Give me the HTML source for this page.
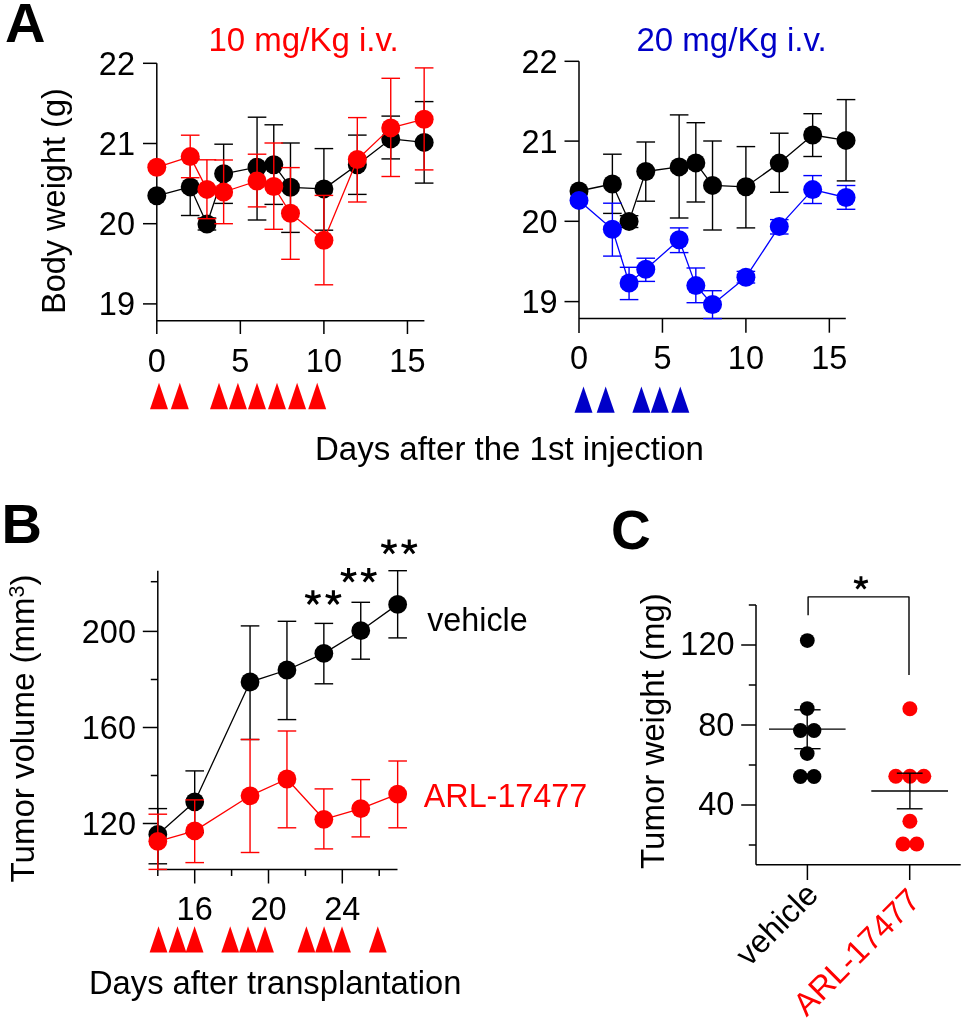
<!DOCTYPE html>
<html><head><meta charset="utf-8"><style>
html,body{margin:0;padding:0;background:#fff;overflow:hidden;}
svg{display:block;will-change:transform;}
text{font-family:"Liberation Sans", sans-serif;}
</style></head><body>
<svg width="967" height="1022" viewBox="0 0 967 1022">
<rect width="967" height="1022" fill="#fff"/>
<line x1="156.80" y1="63.30" x2="156.80" y2="334.00" stroke="#000000" stroke-width="1.5"/>
<line x1="156.80" y1="320.70" x2="424.40" y2="320.70" stroke="#000000" stroke-width="1.5"/>
<line x1="143.00" y1="63.30" x2="156.80" y2="63.30" stroke="#000000" stroke-width="1.5"/>
<line x1="143.00" y1="143.50" x2="156.80" y2="143.50" stroke="#000000" stroke-width="1.5"/>
<line x1="143.00" y1="223.70" x2="156.80" y2="223.70" stroke="#000000" stroke-width="1.5"/>
<line x1="143.00" y1="303.90" x2="156.80" y2="303.90" stroke="#000000" stroke-width="1.5"/>
<line x1="240.35" y1="320.70" x2="240.35" y2="334.00" stroke="#000000" stroke-width="1.5"/>
<line x1="323.90" y1="320.70" x2="323.90" y2="334.00" stroke="#000000" stroke-width="1.5"/>
<line x1="407.45" y1="320.70" x2="407.45" y2="334.00" stroke="#000000" stroke-width="1.5"/>
<line x1="190.22" y1="158.40" x2="190.22" y2="215.50" stroke="#000000" stroke-width="1.4"/>
<line x1="180.92" y1="158.40" x2="199.52" y2="158.40" stroke="#000000" stroke-width="1.4"/>
<line x1="180.92" y1="215.50" x2="199.52" y2="215.50" stroke="#000000" stroke-width="1.4"/>
<line x1="206.93" y1="218.00" x2="206.93" y2="230.00" stroke="#000000" stroke-width="1.4"/>
<line x1="197.63" y1="218.00" x2="216.23" y2="218.00" stroke="#000000" stroke-width="1.4"/>
<line x1="197.63" y1="230.00" x2="216.23" y2="230.00" stroke="#000000" stroke-width="1.4"/>
<line x1="223.64" y1="144.20" x2="223.64" y2="203.40" stroke="#000000" stroke-width="1.4"/>
<line x1="214.34" y1="144.20" x2="232.94" y2="144.20" stroke="#000000" stroke-width="1.4"/>
<line x1="214.34" y1="203.40" x2="232.94" y2="203.40" stroke="#000000" stroke-width="1.4"/>
<line x1="257.06" y1="117.20" x2="257.06" y2="220.00" stroke="#000000" stroke-width="1.4"/>
<line x1="247.76" y1="117.20" x2="266.36" y2="117.20" stroke="#000000" stroke-width="1.4"/>
<line x1="247.76" y1="220.00" x2="266.36" y2="220.00" stroke="#000000" stroke-width="1.4"/>
<line x1="273.77" y1="124.80" x2="273.77" y2="204.40" stroke="#000000" stroke-width="1.4"/>
<line x1="264.47" y1="124.80" x2="283.07" y2="124.80" stroke="#000000" stroke-width="1.4"/>
<line x1="264.47" y1="204.40" x2="283.07" y2="204.40" stroke="#000000" stroke-width="1.4"/>
<line x1="290.48" y1="143.00" x2="290.48" y2="232.40" stroke="#000000" stroke-width="1.4"/>
<line x1="281.18" y1="143.00" x2="299.78" y2="143.00" stroke="#000000" stroke-width="1.4"/>
<line x1="281.18" y1="232.40" x2="299.78" y2="232.40" stroke="#000000" stroke-width="1.4"/>
<line x1="323.90" y1="148.60" x2="323.90" y2="230.20" stroke="#000000" stroke-width="1.4"/>
<line x1="314.60" y1="148.60" x2="333.20" y2="148.60" stroke="#000000" stroke-width="1.4"/>
<line x1="314.60" y1="230.20" x2="333.20" y2="230.20" stroke="#000000" stroke-width="1.4"/>
<line x1="357.32" y1="135.10" x2="357.32" y2="194.40" stroke="#000000" stroke-width="1.4"/>
<line x1="348.02" y1="135.10" x2="366.62" y2="135.10" stroke="#000000" stroke-width="1.4"/>
<line x1="348.02" y1="194.40" x2="366.62" y2="194.40" stroke="#000000" stroke-width="1.4"/>
<line x1="390.74" y1="116.10" x2="390.74" y2="158.90" stroke="#000000" stroke-width="1.4"/>
<line x1="381.44" y1="116.10" x2="400.04" y2="116.10" stroke="#000000" stroke-width="1.4"/>
<line x1="381.44" y1="158.90" x2="400.04" y2="158.90" stroke="#000000" stroke-width="1.4"/>
<line x1="424.16" y1="101.60" x2="424.16" y2="183.10" stroke="#000000" stroke-width="1.4"/>
<line x1="414.86" y1="101.60" x2="433.46" y2="101.60" stroke="#000000" stroke-width="1.4"/>
<line x1="414.86" y1="183.10" x2="433.46" y2="183.10" stroke="#000000" stroke-width="1.4"/>
<polyline points="156.80,195.80 190.22,186.90 206.93,224.00 223.64,173.80 257.06,167.20 273.77,164.70 290.48,187.30 323.90,188.90 357.32,164.80 390.74,138.90 424.16,142.40" fill="none" stroke="#000000" stroke-width="1.3" stroke-linejoin="round"/>
<circle cx="156.80" cy="195.80" r="9.5" fill="#000000"/>
<circle cx="190.22" cy="186.90" r="9.5" fill="#000000"/>
<circle cx="206.93" cy="224.00" r="9.5" fill="#000000"/>
<circle cx="223.64" cy="173.80" r="9.5" fill="#000000"/>
<circle cx="257.06" cy="167.20" r="9.5" fill="#000000"/>
<circle cx="273.77" cy="164.70" r="9.5" fill="#000000"/>
<circle cx="290.48" cy="187.30" r="9.5" fill="#000000"/>
<circle cx="323.90" cy="188.90" r="9.5" fill="#000000"/>
<circle cx="357.32" cy="164.80" r="9.5" fill="#000000"/>
<circle cx="390.74" cy="138.90" r="9.5" fill="#000000"/>
<circle cx="424.16" cy="142.40" r="9.5" fill="#000000"/>
<line x1="190.22" y1="135.20" x2="190.22" y2="177.70" stroke="#ff0000" stroke-width="1.4"/>
<line x1="180.92" y1="135.20" x2="199.52" y2="135.20" stroke="#ff0000" stroke-width="1.4"/>
<line x1="180.92" y1="177.70" x2="199.52" y2="177.70" stroke="#ff0000" stroke-width="1.4"/>
<line x1="206.93" y1="159.80" x2="206.93" y2="218.70" stroke="#ff0000" stroke-width="1.4"/>
<line x1="197.63" y1="159.80" x2="216.23" y2="159.80" stroke="#ff0000" stroke-width="1.4"/>
<line x1="197.63" y1="218.70" x2="216.23" y2="218.70" stroke="#ff0000" stroke-width="1.4"/>
<line x1="223.64" y1="160.00" x2="223.64" y2="223.70" stroke="#ff0000" stroke-width="1.4"/>
<line x1="214.34" y1="160.00" x2="232.94" y2="160.00" stroke="#ff0000" stroke-width="1.4"/>
<line x1="214.34" y1="223.70" x2="232.94" y2="223.70" stroke="#ff0000" stroke-width="1.4"/>
<line x1="257.06" y1="154.20" x2="257.06" y2="206.90" stroke="#ff0000" stroke-width="1.4"/>
<line x1="247.76" y1="154.20" x2="266.36" y2="154.20" stroke="#ff0000" stroke-width="1.4"/>
<line x1="247.76" y1="206.90" x2="266.36" y2="206.90" stroke="#ff0000" stroke-width="1.4"/>
<line x1="273.77" y1="143.00" x2="273.77" y2="229.30" stroke="#ff0000" stroke-width="1.4"/>
<line x1="264.47" y1="143.00" x2="283.07" y2="143.00" stroke="#ff0000" stroke-width="1.4"/>
<line x1="264.47" y1="229.30" x2="283.07" y2="229.30" stroke="#ff0000" stroke-width="1.4"/>
<line x1="290.48" y1="167.60" x2="290.48" y2="259.30" stroke="#ff0000" stroke-width="1.4"/>
<line x1="281.18" y1="167.60" x2="299.78" y2="167.60" stroke="#ff0000" stroke-width="1.4"/>
<line x1="281.18" y1="259.30" x2="299.78" y2="259.30" stroke="#ff0000" stroke-width="1.4"/>
<line x1="323.90" y1="195.40" x2="323.90" y2="284.80" stroke="#ff0000" stroke-width="1.4"/>
<line x1="314.60" y1="195.40" x2="333.20" y2="195.40" stroke="#ff0000" stroke-width="1.4"/>
<line x1="314.60" y1="284.80" x2="333.20" y2="284.80" stroke="#ff0000" stroke-width="1.4"/>
<line x1="357.32" y1="117.60" x2="357.32" y2="202.00" stroke="#ff0000" stroke-width="1.4"/>
<line x1="348.02" y1="117.60" x2="366.62" y2="117.60" stroke="#ff0000" stroke-width="1.4"/>
<line x1="348.02" y1="202.00" x2="366.62" y2="202.00" stroke="#ff0000" stroke-width="1.4"/>
<line x1="390.74" y1="78.30" x2="390.74" y2="176.50" stroke="#ff0000" stroke-width="1.4"/>
<line x1="381.44" y1="78.30" x2="400.04" y2="78.30" stroke="#ff0000" stroke-width="1.4"/>
<line x1="381.44" y1="176.50" x2="400.04" y2="176.50" stroke="#ff0000" stroke-width="1.4"/>
<line x1="424.16" y1="67.90" x2="424.16" y2="169.90" stroke="#ff0000" stroke-width="1.4"/>
<line x1="414.86" y1="67.90" x2="433.46" y2="67.90" stroke="#ff0000" stroke-width="1.4"/>
<line x1="414.86" y1="169.90" x2="433.46" y2="169.90" stroke="#ff0000" stroke-width="1.4"/>
<polyline points="156.80,167.30 190.22,156.60 206.93,189.40 223.64,192.00 257.06,181.00 273.77,186.50 290.48,213.30 323.90,240.20 357.32,159.50 390.74,127.90 424.16,119.20" fill="none" stroke="#ff0000" stroke-width="1.3" stroke-linejoin="round"/>
<circle cx="156.80" cy="167.30" r="9.5" fill="#ff0000"/>
<circle cx="190.22" cy="156.60" r="9.5" fill="#ff0000"/>
<circle cx="206.93" cy="189.40" r="9.5" fill="#ff0000"/>
<circle cx="223.64" cy="192.00" r="9.5" fill="#ff0000"/>
<circle cx="257.06" cy="181.00" r="9.5" fill="#ff0000"/>
<circle cx="273.77" cy="186.50" r="9.5" fill="#ff0000"/>
<circle cx="290.48" cy="213.30" r="9.5" fill="#ff0000"/>
<circle cx="323.90" cy="240.20" r="9.5" fill="#ff0000"/>
<circle cx="357.32" cy="159.50" r="9.5" fill="#ff0000"/>
<circle cx="390.74" cy="127.90" r="9.5" fill="#ff0000"/>
<circle cx="424.16" cy="119.20" r="9.5" fill="#ff0000"/>
<line x1="579.00" y1="61.30" x2="579.00" y2="333.00" stroke="#000000" stroke-width="1.5"/>
<line x1="579.00" y1="318.60" x2="845.80" y2="318.60" stroke="#000000" stroke-width="1.5"/>
<line x1="564.50" y1="61.30" x2="579.00" y2="61.30" stroke="#000000" stroke-width="1.5"/>
<line x1="564.50" y1="141.10" x2="579.00" y2="141.10" stroke="#000000" stroke-width="1.5"/>
<line x1="564.50" y1="221.30" x2="579.00" y2="221.30" stroke="#000000" stroke-width="1.5"/>
<line x1="564.50" y1="301.60" x2="579.00" y2="301.60" stroke="#000000" stroke-width="1.5"/>
<line x1="662.45" y1="318.60" x2="662.45" y2="332.70" stroke="#000000" stroke-width="1.5"/>
<line x1="745.90" y1="318.60" x2="745.90" y2="332.70" stroke="#000000" stroke-width="1.5"/>
<line x1="829.35" y1="318.60" x2="829.35" y2="332.70" stroke="#000000" stroke-width="1.5"/>
<line x1="612.38" y1="154.20" x2="612.38" y2="213.40" stroke="#000000" stroke-width="1.4"/>
<line x1="603.08" y1="154.20" x2="621.68" y2="154.20" stroke="#000000" stroke-width="1.4"/>
<line x1="603.08" y1="213.40" x2="621.68" y2="213.40" stroke="#000000" stroke-width="1.4"/>
<line x1="629.07" y1="215.70" x2="629.07" y2="227.50" stroke="#000000" stroke-width="1.4"/>
<line x1="619.77" y1="215.70" x2="638.37" y2="215.70" stroke="#000000" stroke-width="1.4"/>
<line x1="619.77" y1="227.50" x2="638.37" y2="227.50" stroke="#000000" stroke-width="1.4"/>
<line x1="645.76" y1="142.00" x2="645.76" y2="201.20" stroke="#000000" stroke-width="1.4"/>
<line x1="636.46" y1="142.00" x2="655.06" y2="142.00" stroke="#000000" stroke-width="1.4"/>
<line x1="636.46" y1="201.20" x2="655.06" y2="201.20" stroke="#000000" stroke-width="1.4"/>
<line x1="679.14" y1="114.90" x2="679.14" y2="218.00" stroke="#000000" stroke-width="1.4"/>
<line x1="669.84" y1="114.90" x2="688.44" y2="114.90" stroke="#000000" stroke-width="1.4"/>
<line x1="669.84" y1="218.00" x2="688.44" y2="218.00" stroke="#000000" stroke-width="1.4"/>
<line x1="695.83" y1="122.70" x2="695.83" y2="202.00" stroke="#000000" stroke-width="1.4"/>
<line x1="686.53" y1="122.70" x2="705.13" y2="122.70" stroke="#000000" stroke-width="1.4"/>
<line x1="686.53" y1="202.00" x2="705.13" y2="202.00" stroke="#000000" stroke-width="1.4"/>
<line x1="712.52" y1="141.00" x2="712.52" y2="230.00" stroke="#000000" stroke-width="1.4"/>
<line x1="703.22" y1="141.00" x2="721.82" y2="141.00" stroke="#000000" stroke-width="1.4"/>
<line x1="703.22" y1="230.00" x2="721.82" y2="230.00" stroke="#000000" stroke-width="1.4"/>
<line x1="745.90" y1="146.60" x2="745.90" y2="227.90" stroke="#000000" stroke-width="1.4"/>
<line x1="736.60" y1="146.60" x2="755.20" y2="146.60" stroke="#000000" stroke-width="1.4"/>
<line x1="736.60" y1="227.90" x2="755.20" y2="227.90" stroke="#000000" stroke-width="1.4"/>
<line x1="779.28" y1="133.20" x2="779.28" y2="192.30" stroke="#000000" stroke-width="1.4"/>
<line x1="769.98" y1="133.20" x2="788.58" y2="133.20" stroke="#000000" stroke-width="1.4"/>
<line x1="769.98" y1="192.30" x2="788.58" y2="192.30" stroke="#000000" stroke-width="1.4"/>
<line x1="812.66" y1="113.70" x2="812.66" y2="156.50" stroke="#000000" stroke-width="1.4"/>
<line x1="803.36" y1="113.70" x2="821.96" y2="113.70" stroke="#000000" stroke-width="1.4"/>
<line x1="803.36" y1="156.50" x2="821.96" y2="156.50" stroke="#000000" stroke-width="1.4"/>
<line x1="846.04" y1="99.60" x2="846.04" y2="180.90" stroke="#000000" stroke-width="1.4"/>
<line x1="836.74" y1="99.60" x2="855.34" y2="99.60" stroke="#000000" stroke-width="1.4"/>
<line x1="836.74" y1="180.90" x2="855.34" y2="180.90" stroke="#000000" stroke-width="1.4"/>
<polyline points="579.00,191.00 612.38,184.00 629.07,221.40 645.76,171.50 679.14,166.90 695.83,162.90 712.52,185.40 745.90,186.80 779.28,163.10 812.66,135.00 846.04,140.40" fill="none" stroke="#000000" stroke-width="1.3" stroke-linejoin="round"/>
<circle cx="579.00" cy="191.00" r="9.5" fill="#000000"/>
<circle cx="612.38" cy="184.00" r="9.5" fill="#000000"/>
<circle cx="629.07" cy="221.40" r="9.5" fill="#000000"/>
<circle cx="645.76" cy="171.50" r="9.5" fill="#000000"/>
<circle cx="679.14" cy="166.90" r="9.5" fill="#000000"/>
<circle cx="695.83" cy="162.90" r="9.5" fill="#000000"/>
<circle cx="712.52" cy="185.40" r="9.5" fill="#000000"/>
<circle cx="745.90" cy="186.80" r="9.5" fill="#000000"/>
<circle cx="779.28" cy="163.10" r="9.5" fill="#000000"/>
<circle cx="812.66" cy="135.00" r="9.5" fill="#000000"/>
<circle cx="846.04" cy="140.40" r="9.5" fill="#000000"/>
<line x1="612.38" y1="203.20" x2="612.38" y2="256.10" stroke="#0000ff" stroke-width="1.4"/>
<line x1="603.08" y1="203.20" x2="621.68" y2="203.20" stroke="#0000ff" stroke-width="1.4"/>
<line x1="603.08" y1="256.10" x2="621.68" y2="256.10" stroke="#0000ff" stroke-width="1.4"/>
<line x1="629.07" y1="267.30" x2="629.07" y2="299.60" stroke="#0000ff" stroke-width="1.4"/>
<line x1="619.77" y1="267.30" x2="638.37" y2="267.30" stroke="#0000ff" stroke-width="1.4"/>
<line x1="619.77" y1="299.60" x2="638.37" y2="299.60" stroke="#0000ff" stroke-width="1.4"/>
<line x1="645.76" y1="258.20" x2="645.76" y2="281.40" stroke="#0000ff" stroke-width="1.4"/>
<line x1="636.46" y1="258.20" x2="655.06" y2="258.20" stroke="#0000ff" stroke-width="1.4"/>
<line x1="636.46" y1="281.40" x2="655.06" y2="281.40" stroke="#0000ff" stroke-width="1.4"/>
<line x1="679.14" y1="227.90" x2="679.14" y2="252.60" stroke="#0000ff" stroke-width="1.4"/>
<line x1="669.84" y1="227.90" x2="688.44" y2="227.90" stroke="#0000ff" stroke-width="1.4"/>
<line x1="669.84" y1="252.60" x2="688.44" y2="252.60" stroke="#0000ff" stroke-width="1.4"/>
<line x1="695.83" y1="268.00" x2="695.83" y2="302.70" stroke="#0000ff" stroke-width="1.4"/>
<line x1="686.53" y1="268.00" x2="705.13" y2="268.00" stroke="#0000ff" stroke-width="1.4"/>
<line x1="686.53" y1="302.70" x2="705.13" y2="302.70" stroke="#0000ff" stroke-width="1.4"/>
<line x1="712.52" y1="290.70" x2="712.52" y2="318.60" stroke="#0000ff" stroke-width="1.4"/>
<line x1="703.22" y1="290.70" x2="721.82" y2="290.70" stroke="#0000ff" stroke-width="1.4"/>
<line x1="703.22" y1="318.60" x2="721.82" y2="318.60" stroke="#0000ff" stroke-width="1.4"/>
<line x1="745.90" y1="271.40" x2="745.90" y2="283.00" stroke="#0000ff" stroke-width="1.4"/>
<line x1="736.60" y1="271.40" x2="755.20" y2="271.40" stroke="#0000ff" stroke-width="1.4"/>
<line x1="736.60" y1="283.00" x2="755.20" y2="283.00" stroke="#0000ff" stroke-width="1.4"/>
<line x1="779.28" y1="219.60" x2="779.28" y2="234.00" stroke="#0000ff" stroke-width="1.4"/>
<line x1="769.98" y1="219.60" x2="788.58" y2="219.60" stroke="#0000ff" stroke-width="1.4"/>
<line x1="769.98" y1="234.00" x2="788.58" y2="234.00" stroke="#0000ff" stroke-width="1.4"/>
<line x1="812.66" y1="175.60" x2="812.66" y2="203.50" stroke="#0000ff" stroke-width="1.4"/>
<line x1="803.36" y1="175.60" x2="821.96" y2="175.60" stroke="#0000ff" stroke-width="1.4"/>
<line x1="803.36" y1="203.50" x2="821.96" y2="203.50" stroke="#0000ff" stroke-width="1.4"/>
<line x1="846.04" y1="185.50" x2="846.04" y2="209.30" stroke="#0000ff" stroke-width="1.4"/>
<line x1="836.74" y1="185.50" x2="855.34" y2="185.50" stroke="#0000ff" stroke-width="1.4"/>
<line x1="836.74" y1="209.30" x2="855.34" y2="209.30" stroke="#0000ff" stroke-width="1.4"/>
<polyline points="579.00,200.40 612.38,229.20 629.07,283.00 645.76,269.30 679.14,239.70 695.83,285.60 712.52,304.50 745.90,277.20 779.28,226.40 812.66,189.60 846.04,197.50" fill="none" stroke="#0000ff" stroke-width="1.3" stroke-linejoin="round"/>
<circle cx="579.00" cy="200.40" r="9.5" fill="#0000ff"/>
<circle cx="612.38" cy="229.20" r="9.5" fill="#0000ff"/>
<circle cx="629.07" cy="283.00" r="9.5" fill="#0000ff"/>
<circle cx="645.76" cy="269.30" r="9.5" fill="#0000ff"/>
<circle cx="679.14" cy="239.70" r="9.5" fill="#0000ff"/>
<circle cx="695.83" cy="285.60" r="9.5" fill="#0000ff"/>
<circle cx="712.52" cy="304.50" r="9.5" fill="#0000ff"/>
<circle cx="745.90" cy="277.20" r="9.5" fill="#0000ff"/>
<circle cx="779.28" cy="226.40" r="9.5" fill="#0000ff"/>
<circle cx="812.66" cy="189.60" r="9.5" fill="#0000ff"/>
<circle cx="846.04" cy="197.50" r="9.5" fill="#0000ff"/>
<text x="5.0" y="41.7" font-size="56" fill="#000000" text-anchor="start" font-weight="bold" >A</text>
<text x="208.5" y="51" font-size="33" fill="#ff0000" text-anchor="start" font-weight="normal" >10 mg/Kg i.v.</text>
<text x="636.5" y="51" font-size="33" fill="#0000c8" text-anchor="start" font-weight="normal" >20 mg/Kg i.v.</text>
<text x="135" y="74.8" font-size="32.5" fill="#000000" text-anchor="end" font-weight="normal" >22</text>
<text x="135" y="155.0" font-size="32.5" fill="#000000" text-anchor="end" font-weight="normal" >21</text>
<text x="135" y="235.2" font-size="32.5" fill="#000000" text-anchor="end" font-weight="normal" >20</text>
<text x="135" y="315.4" font-size="32.5" fill="#000000" text-anchor="end" font-weight="normal" >19</text>
<text x="557.6" y="72.8" font-size="32.5" fill="#000000" text-anchor="end" font-weight="normal" >22</text>
<text x="557.6" y="152.6" font-size="32.5" fill="#000000" text-anchor="end" font-weight="normal" >21</text>
<text x="557.6" y="232.8" font-size="32.5" fill="#000000" text-anchor="end" font-weight="normal" >20</text>
<text x="557.6" y="313.1" font-size="32.5" fill="#000000" text-anchor="end" font-weight="normal" >19</text>
<text x="156.8" y="371.5" font-size="32.5" fill="#000000" text-anchor="middle" font-weight="normal" >0</text>
<text x="579.0" y="369.3" font-size="32.5" fill="#000000" text-anchor="middle" font-weight="normal" >0</text>
<text x="240.35" y="371.5" font-size="32.5" fill="#000000" text-anchor="middle" font-weight="normal" >5</text>
<text x="662.45" y="369.3" font-size="32.5" fill="#000000" text-anchor="middle" font-weight="normal" >5</text>
<text x="323.9" y="371.5" font-size="32.5" fill="#000000" text-anchor="middle" font-weight="normal" >10</text>
<text x="745.9" y="369.3" font-size="32.5" fill="#000000" text-anchor="middle" font-weight="normal" >10</text>
<text x="407.45" y="371.5" font-size="32.5" fill="#000000" text-anchor="middle" font-weight="normal" >15</text>
<text x="829.35" y="369.3" font-size="32.5" fill="#000000" text-anchor="middle" font-weight="normal" >15</text>
<text x="0" y="0" font-size="32.5" fill="#000000" text-anchor="start" font-weight="normal" transform="translate(64.5,314) rotate(-90)">Body weight (g)</text>
<text x="315" y="459.5" font-size="33" fill="#000000" text-anchor="start" font-weight="normal" >Days after the 1st injection</text>
<polygon points="150.00,409.20 168.00,409.20 159.00,382.70" fill="#ff0000"/>
<polygon points="170.80,409.20 188.80,409.20 179.80,382.70" fill="#ff0000"/>
<polygon points="210.00,409.20 228.00,409.20 219.00,382.70" fill="#ff0000"/>
<polygon points="228.90,409.20 246.90,409.20 237.90,382.70" fill="#ff0000"/>
<polygon points="248.00,409.20 266.00,409.20 257.00,382.70" fill="#ff0000"/>
<polygon points="268.00,409.20 286.00,409.20 277.00,382.70" fill="#ff0000"/>
<polygon points="288.10,409.20 306.10,409.20 297.10,382.70" fill="#ff0000"/>
<polygon points="308.20,409.20 326.20,409.20 317.20,382.70" fill="#ff0000"/>
<polygon points="574.50,412.70 592.50,412.70 583.50,386.40" fill="#0000c8"/>
<polygon points="596.70,412.70 614.70,412.70 605.70,386.40" fill="#0000c8"/>
<polygon points="632.40,412.70 650.40,412.70 641.40,386.40" fill="#0000c8"/>
<polygon points="650.80,412.70 668.80,412.70 659.80,386.40" fill="#0000c8"/>
<polygon points="671.30,412.70 689.30,412.70 680.30,386.40" fill="#0000c8"/>
<line x1="157.80" y1="570.80" x2="157.80" y2="876.00" stroke="#000000" stroke-width="1.5"/>
<line x1="157.80" y1="869.40" x2="397.50" y2="869.40" stroke="#000000" stroke-width="1.5"/>
<line x1="142.80" y1="631.40" x2="157.80" y2="631.40" stroke="#000000" stroke-width="1.5"/>
<line x1="142.80" y1="727.50" x2="157.80" y2="727.50" stroke="#000000" stroke-width="1.5"/>
<line x1="142.80" y1="823.50" x2="157.80" y2="823.50" stroke="#000000" stroke-width="1.5"/>
<line x1="150.80" y1="581.70" x2="157.80" y2="581.70" stroke="#000000" stroke-width="1.5"/>
<line x1="150.80" y1="679.50" x2="157.80" y2="679.50" stroke="#000000" stroke-width="1.5"/>
<line x1="150.80" y1="775.50" x2="157.80" y2="775.50" stroke="#000000" stroke-width="1.5"/>
<line x1="194.70" y1="869.40" x2="194.70" y2="883.50" stroke="#000000" stroke-width="1.5"/>
<line x1="268.50" y1="869.40" x2="268.50" y2="883.50" stroke="#000000" stroke-width="1.5"/>
<line x1="342.30" y1="869.40" x2="342.30" y2="883.50" stroke="#000000" stroke-width="1.5"/>
<line x1="231.60" y1="869.40" x2="231.60" y2="876.00" stroke="#000000" stroke-width="1.5"/>
<line x1="305.40" y1="869.40" x2="305.40" y2="876.00" stroke="#000000" stroke-width="1.5"/>
<line x1="379.20" y1="869.40" x2="379.20" y2="876.00" stroke="#000000" stroke-width="1.5"/>
<line x1="157.80" y1="808.60" x2="157.80" y2="863.80" stroke="#000000" stroke-width="1.4"/>
<line x1="148.50" y1="808.60" x2="167.10" y2="808.60" stroke="#000000" stroke-width="1.4"/>
<line x1="148.50" y1="863.80" x2="167.10" y2="863.80" stroke="#000000" stroke-width="1.4"/>
<line x1="194.70" y1="770.90" x2="194.70" y2="832.70" stroke="#000000" stroke-width="1.4"/>
<line x1="185.40" y1="770.90" x2="204.00" y2="770.90" stroke="#000000" stroke-width="1.4"/>
<line x1="185.40" y1="832.70" x2="204.00" y2="832.70" stroke="#000000" stroke-width="1.4"/>
<line x1="250.05" y1="625.90" x2="250.05" y2="739.50" stroke="#000000" stroke-width="1.4"/>
<line x1="240.75" y1="625.90" x2="259.35" y2="625.90" stroke="#000000" stroke-width="1.4"/>
<line x1="240.75" y1="739.50" x2="259.35" y2="739.50" stroke="#000000" stroke-width="1.4"/>
<line x1="286.95" y1="621.30" x2="286.95" y2="719.60" stroke="#000000" stroke-width="1.4"/>
<line x1="277.65" y1="621.30" x2="296.25" y2="621.30" stroke="#000000" stroke-width="1.4"/>
<line x1="277.65" y1="719.60" x2="296.25" y2="719.60" stroke="#000000" stroke-width="1.4"/>
<line x1="323.85" y1="623.40" x2="323.85" y2="683.80" stroke="#000000" stroke-width="1.4"/>
<line x1="314.55" y1="623.40" x2="333.15" y2="623.40" stroke="#000000" stroke-width="1.4"/>
<line x1="314.55" y1="683.80" x2="333.15" y2="683.80" stroke="#000000" stroke-width="1.4"/>
<line x1="360.75" y1="602.30" x2="360.75" y2="659.20" stroke="#000000" stroke-width="1.4"/>
<line x1="351.45" y1="602.30" x2="370.05" y2="602.30" stroke="#000000" stroke-width="1.4"/>
<line x1="351.45" y1="659.20" x2="370.05" y2="659.20" stroke="#000000" stroke-width="1.4"/>
<line x1="397.65" y1="570.70" x2="397.65" y2="637.90" stroke="#000000" stroke-width="1.4"/>
<line x1="388.35" y1="570.70" x2="406.95" y2="570.70" stroke="#000000" stroke-width="1.4"/>
<line x1="388.35" y1="637.90" x2="406.95" y2="637.90" stroke="#000000" stroke-width="1.4"/>
<polyline points="157.80,834.40 194.70,801.80 250.05,682.00 286.95,670.00 323.85,653.40 360.75,630.70 397.65,604.40" fill="none" stroke="#000000" stroke-width="1.3" stroke-linejoin="round"/>
<circle cx="157.80" cy="834.40" r="9.4" fill="#000000"/>
<circle cx="194.70" cy="801.80" r="9.4" fill="#000000"/>
<circle cx="250.05" cy="682.00" r="9.4" fill="#000000"/>
<circle cx="286.95" cy="670.00" r="9.4" fill="#000000"/>
<circle cx="323.85" cy="653.40" r="9.4" fill="#000000"/>
<circle cx="360.75" cy="630.70" r="9.4" fill="#000000"/>
<circle cx="397.65" cy="604.40" r="9.4" fill="#000000"/>
<line x1="157.80" y1="814.20" x2="157.80" y2="869.40" stroke="#ff0000" stroke-width="1.4"/>
<line x1="148.50" y1="814.20" x2="167.10" y2="814.20" stroke="#ff0000" stroke-width="1.4"/>
<line x1="148.50" y1="869.40" x2="167.10" y2="869.40" stroke="#ff0000" stroke-width="1.4"/>
<line x1="194.70" y1="799.90" x2="194.70" y2="862.60" stroke="#ff0000" stroke-width="1.4"/>
<line x1="185.40" y1="799.90" x2="204.00" y2="799.90" stroke="#ff0000" stroke-width="1.4"/>
<line x1="185.40" y1="862.60" x2="204.00" y2="862.60" stroke="#ff0000" stroke-width="1.4"/>
<line x1="250.05" y1="739.50" x2="250.05" y2="852.50" stroke="#ff0000" stroke-width="1.4"/>
<line x1="240.75" y1="739.50" x2="259.35" y2="739.50" stroke="#ff0000" stroke-width="1.4"/>
<line x1="240.75" y1="852.50" x2="259.35" y2="852.50" stroke="#ff0000" stroke-width="1.4"/>
<line x1="286.95" y1="731.00" x2="286.95" y2="827.80" stroke="#ff0000" stroke-width="1.4"/>
<line x1="277.65" y1="731.00" x2="296.25" y2="731.00" stroke="#ff0000" stroke-width="1.4"/>
<line x1="277.65" y1="827.80" x2="296.25" y2="827.80" stroke="#ff0000" stroke-width="1.4"/>
<line x1="323.85" y1="788.90" x2="323.85" y2="848.90" stroke="#ff0000" stroke-width="1.4"/>
<line x1="314.55" y1="788.90" x2="333.15" y2="788.90" stroke="#ff0000" stroke-width="1.4"/>
<line x1="314.55" y1="848.90" x2="333.15" y2="848.90" stroke="#ff0000" stroke-width="1.4"/>
<line x1="360.75" y1="779.60" x2="360.75" y2="836.90" stroke="#ff0000" stroke-width="1.4"/>
<line x1="351.45" y1="779.60" x2="370.05" y2="779.60" stroke="#ff0000" stroke-width="1.4"/>
<line x1="351.45" y1="836.90" x2="370.05" y2="836.90" stroke="#ff0000" stroke-width="1.4"/>
<line x1="397.65" y1="761.00" x2="397.65" y2="827.80" stroke="#ff0000" stroke-width="1.4"/>
<line x1="388.35" y1="761.00" x2="406.95" y2="761.00" stroke="#ff0000" stroke-width="1.4"/>
<line x1="388.35" y1="827.80" x2="406.95" y2="827.80" stroke="#ff0000" stroke-width="1.4"/>
<polyline points="157.80,841.30 194.70,830.90 250.05,795.80 286.95,779.00 323.85,819.30 360.75,808.60 397.65,794.10" fill="none" stroke="#ff0000" stroke-width="1.3" stroke-linejoin="round"/>
<circle cx="157.80" cy="841.30" r="9.4" fill="#ff0000"/>
<circle cx="194.70" cy="830.90" r="9.4" fill="#ff0000"/>
<circle cx="250.05" cy="795.80" r="9.4" fill="#ff0000"/>
<circle cx="286.95" cy="779.00" r="9.4" fill="#ff0000"/>
<circle cx="323.85" cy="819.30" r="9.4" fill="#ff0000"/>
<circle cx="360.75" cy="808.60" r="9.4" fill="#ff0000"/>
<circle cx="397.65" cy="794.10" r="9.4" fill="#ff0000"/>
<text x="1.6" y="542.6" font-size="56" fill="#000000" text-anchor="start" font-weight="bold" >B</text>
<text x="136" y="642.7" font-size="32.5" fill="#000000" text-anchor="end" font-weight="normal" >200</text>
<text x="136" y="738.7" font-size="32.5" fill="#000000" text-anchor="end" font-weight="normal" >160</text>
<text x="136" y="834.7" font-size="32.5" fill="#000000" text-anchor="end" font-weight="normal" >120</text>
<text x="194.7" y="920.3" font-size="32.5" fill="#000000" text-anchor="middle" font-weight="normal" >16</text>
<text x="268.5" y="920.3" font-size="32.5" fill="#000000" text-anchor="middle" font-weight="normal" >20</text>
<text x="342.3" y="920.3" font-size="32.5" fill="#000000" text-anchor="middle" font-weight="normal" >24</text>
<text x="0" y="0" font-size="33" fill="#000000" text-anchor="start" font-weight="normal" transform="translate(33.5,882.4) rotate(-90)">Tumor volume (mm<tspan font-size="21.5" dy="-10">3</tspan><tspan dy="10">)</tspan></text>
<text x="89" y="993.6" font-size="32.7" fill="#000000" text-anchor="start" font-weight="normal" >Days after transplantation</text>
<text x="427.2" y="630.6" font-size="32.3" fill="#000000" text-anchor="start" font-weight="normal" >vehicle</text>
<text x="423.8" y="806.9" font-size="32.3" fill="#ff0000" text-anchor="start" font-weight="normal" >ARL-17477</text>
<path d="M312.90,597.75 L312.90,590.20 M312.90,597.75 L305.24,595.53 M312.90,597.75 L320.56,595.53 M312.90,597.75 L308.13,603.97 M312.90,597.75 L317.67,603.97" stroke="#000" stroke-width="3.1" fill="none" stroke-linecap="butt"/>
<path d="M333.40,597.75 L333.40,590.20 M333.40,597.75 L325.74,595.53 M333.40,597.75 L341.06,595.53 M333.40,597.75 L328.63,603.97 M333.40,597.75 L338.17,603.97" stroke="#000" stroke-width="3.1" fill="none" stroke-linecap="butt"/>
<path d="M348.55,575.45 L348.55,567.90 M348.55,575.45 L340.89,573.23 M348.55,575.45 L356.21,573.23 M348.55,575.45 L343.78,581.67 M348.55,575.45 L353.32,581.67" stroke="#000" stroke-width="3.1" fill="none" stroke-linecap="butt"/>
<path d="M368.75,575.45 L368.75,567.90 M368.75,575.45 L361.09,573.23 M368.75,575.45 L376.41,573.23 M368.75,575.45 L363.98,581.67 M368.75,575.45 L373.52,581.67" stroke="#000" stroke-width="3.1" fill="none" stroke-linecap="butt"/>
<path d="M388.95,547.15 L388.95,539.60 M388.95,547.15 L381.29,544.93 M388.95,547.15 L396.61,544.93 M388.95,547.15 L384.18,553.37 M388.95,547.15 L393.72,553.37" stroke="#000" stroke-width="3.1" fill="none" stroke-linecap="butt"/>
<path d="M409.25,547.15 L409.25,539.60 M409.25,547.15 L401.59,544.93 M409.25,547.15 L416.91,544.93 M409.25,547.15 L404.48,553.37 M409.25,547.15 L414.02,553.37" stroke="#000" stroke-width="3.1" fill="none" stroke-linecap="butt"/>
<polygon points="149.60,952.60 167.40,952.60 158.50,926.20" fill="#ff0000"/>
<polygon points="168.60,952.60 186.40,952.60 177.50,926.20" fill="#ff0000"/>
<polygon points="185.70,952.60 203.50,952.60 194.60,926.20" fill="#ff0000"/>
<polygon points="221.30,952.60 239.10,952.60 230.20,926.20" fill="#ff0000"/>
<polygon points="239.10,952.60 256.90,952.60 248.00,926.20" fill="#ff0000"/>
<polygon points="256.10,952.60 273.90,952.60 265.00,926.20" fill="#ff0000"/>
<polygon points="297.50,952.60 315.30,952.60 306.40,926.20" fill="#ff0000"/>
<polygon points="315.20,952.60 333.00,952.60 324.10,926.20" fill="#ff0000"/>
<polygon points="333.10,952.60 350.90,952.60 342.00,926.20" fill="#ff0000"/>
<polygon points="368.90,952.60 386.70,952.60 377.80,926.20" fill="#ff0000"/>
<line x1="756.00" y1="604.90" x2="756.00" y2="864.70" stroke="#000000" stroke-width="1.5"/>
<line x1="756.00" y1="864.70" x2="960.70" y2="864.70" stroke="#000000" stroke-width="1.5"/>
<line x1="741.20" y1="645.00" x2="756.00" y2="645.00" stroke="#000000" stroke-width="1.5"/>
<line x1="741.20" y1="725.00" x2="756.00" y2="725.00" stroke="#000000" stroke-width="1.5"/>
<line x1="741.20" y1="805.00" x2="756.00" y2="805.00" stroke="#000000" stroke-width="1.5"/>
<line x1="748.80" y1="605.00" x2="756.00" y2="605.00" stroke="#000000" stroke-width="1.5"/>
<line x1="748.80" y1="685.00" x2="756.00" y2="685.00" stroke="#000000" stroke-width="1.5"/>
<line x1="748.80" y1="765.00" x2="756.00" y2="765.00" stroke="#000000" stroke-width="1.5"/>
<line x1="748.80" y1="845.00" x2="756.00" y2="845.00" stroke="#000000" stroke-width="1.5"/>
<line x1="807.40" y1="864.70" x2="807.40" y2="880.00" stroke="#000000" stroke-width="1.5"/>
<line x1="909.70" y1="864.70" x2="909.70" y2="880.00" stroke="#000000" stroke-width="1.5"/>
<polyline points="808.10,615.30 808.10,596.90 909.00,596.90 909.00,675.10" fill="none" stroke="#000000" stroke-width="1.4" stroke-linejoin="round"/>
<path d="M860.95,583.00 L860.95,576.20 M860.95,583.00 L854.05,581.00 M860.95,583.00 L867.85,581.00 M860.95,583.00 L856.65,588.60 M860.95,583.00 L865.25,588.60" stroke="#000" stroke-width="2.9" fill="none" stroke-linecap="butt"/>
<circle cx="807.30" cy="640.60" r="7.4" fill="#000000"/>
<circle cx="807.20" cy="708.60" r="7.4" fill="#000000"/>
<circle cx="800.40" cy="730.50" r="7.4" fill="#000000"/>
<circle cx="814.00" cy="730.50" r="7.4" fill="#000000"/>
<circle cx="807.20" cy="753.60" r="7.4" fill="#000000"/>
<circle cx="800.40" cy="776.50" r="7.4" fill="#000000"/>
<circle cx="814.00" cy="776.50" r="7.4" fill="#000000"/>
<line x1="769.00" y1="729.10" x2="845.60" y2="729.10" stroke="#000000" stroke-width="1.4"/>
<line x1="807.20" y1="709.80" x2="807.20" y2="748.70" stroke="#000000" stroke-width="1.4"/>
<line x1="794.30" y1="709.80" x2="820.60" y2="709.80" stroke="#000000" stroke-width="1.4"/>
<line x1="794.30" y1="748.70" x2="820.60" y2="748.70" stroke="#000000" stroke-width="1.4"/>
<circle cx="909.90" cy="708.80" r="7.5" fill="#ff0000"/>
<circle cx="895.80" cy="776.30" r="7.5" fill="#ff0000"/>
<circle cx="909.90" cy="776.30" r="7.5" fill="#ff0000"/>
<circle cx="923.80" cy="776.30" r="7.5" fill="#ff0000"/>
<circle cx="909.90" cy="821.30" r="7.5" fill="#ff0000"/>
<circle cx="903.00" cy="844.00" r="7.5" fill="#ff0000"/>
<circle cx="916.70" cy="844.00" r="7.5" fill="#ff0000"/>
<line x1="871.30" y1="791.00" x2="948.00" y2="791.00" stroke="#000000" stroke-width="1.4"/>
<line x1="909.90" y1="773.20" x2="909.90" y2="808.80" stroke="#000000" stroke-width="1.4"/>
<line x1="896.80" y1="773.20" x2="922.60" y2="773.20" stroke="#000000" stroke-width="1.4"/>
<line x1="896.80" y1="808.80" x2="922.60" y2="808.80" stroke="#000000" stroke-width="1.4"/>
<text x="611" y="548.8" font-size="55" fill="#000000" text-anchor="start" font-weight="bold" >C</text>
<text x="734.6" y="655" font-size="32.5" fill="#000000" text-anchor="end" font-weight="normal" >120</text>
<text x="734.3" y="735.6" font-size="32.5" fill="#000000" text-anchor="end" font-weight="normal" >80</text>
<text x="734.3" y="815.2" font-size="32.5" fill="#000000" text-anchor="end" font-weight="normal" >40</text>
<text x="0" y="0" font-size="33" fill="#000000" text-anchor="start" font-weight="normal" transform="translate(663.7,868.9) rotate(-90)">Tumor weight (mg)</text>
<text x="0" y="0" font-size="32.3" fill="#000000" text-anchor="end" font-weight="normal" transform="translate(820,896.3) rotate(-45)">vehicle</text>
<text x="0" y="0" font-size="32.3" fill="#ff0000" text-anchor="end" font-weight="normal" transform="translate(922,902) rotate(-45)">ARL-17477</text>
</svg></body></html>
